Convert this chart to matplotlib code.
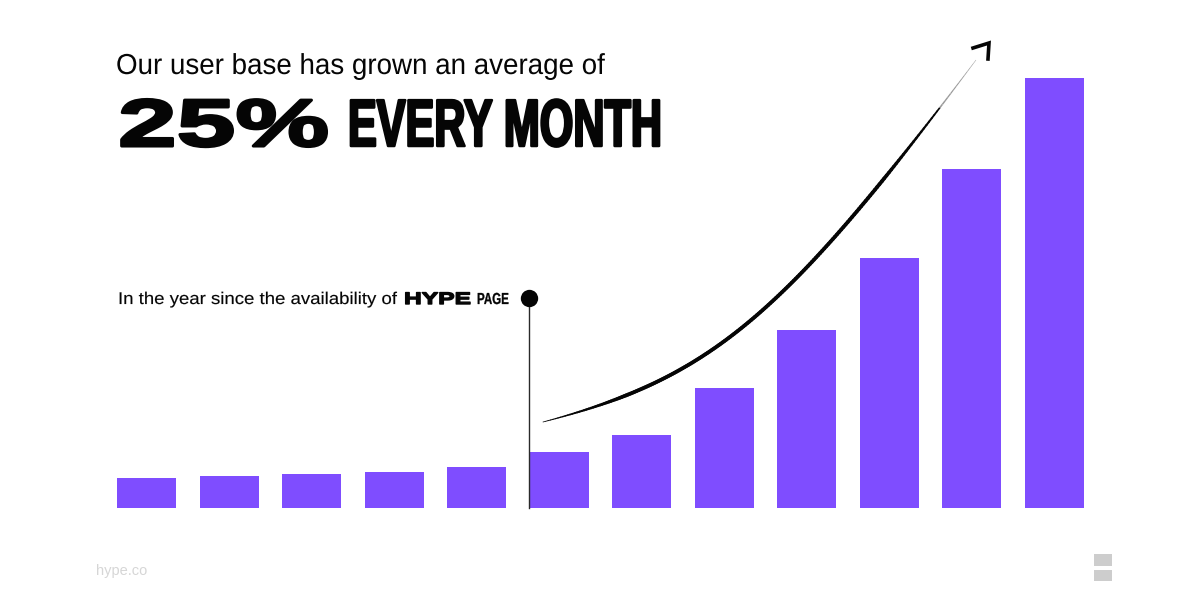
"""Bar chart slide: user base growth, hype.co."""
import matplotlib
matplotlib.use("Agg")
import matplotlib.pyplot as plt
import matplotlib.patheffects as pe
from matplotlib.collections import LineCollection
from matplotlib.transforms import Affine2D
import numpy as np

# ── Data ──────────────────────────────────────────────────────────────────────
months = np.arange(12)
users = [30, 32, 34.5, 36, 41, 56, 73.5, 120, 178.5, 250, 339, 430]

TITLE = "Our user base has grown an average of"
BIG_NUM = "25%"
BIG_TXT = "EVERY MONTH"
NOTE = "In the year since the availability of"
PURPLE = "#7f4dff"
BLACK = "#050505"
FOOT = "#d6d6d6"
LOGO = "#cdcdcd"

plt.rcParams["font.family"] = ["Liberation Sans", "DejaVu Sans"]


class Stretch(pe.AbstractPathEffect):
    """Scale a text horizontally about x0 (display px)."""
    def __init__(self, x0, sx, stroke=0):
        super().__init__()
        self.x0, self.sx, self.stroke = x0, sx, stroke

    def draw_path(self, renderer, gc, tpath, affine, rgbFace=None):
        aff = affine + Affine2D().translate(-self.x0, 0).scale(self.sx, 1).translate(self.x0, 0)
        gc0 = renderer.new_gc()
        gc0.copy_properties(gc)
        if self.stroke:
            gc0.set_linewidth(self.stroke)
            gc0.set_foreground(rgbFace)
        else:
            gc0.set_linewidth(0)
        renderer.draw_path(gc0, tpath, aff, rgbFace)
        gc0.restore()


fig = plt.figure(figsize=(12, 6), dpi=100, facecolor="white")

# bars: one unit in y is one pixel, baseline at y=508 px from the top
ax = fig.add_axes([0, 0, 1, 1])
ax.bar(months, users, width=59 / 82.5, color=PURPLE, linewidth=0)
ax.set_xlim(-146.5 / 82.5, (1200 - 146.5) / 82.5)
ax.set_ylim(-(600 - 508), 508)
ax.axis("off")

# overlay in image pixels
ov = fig.add_axes([0, 0, 1, 1], facecolor="none")
ov.set_xlim(0, 1200)
ov.set_ylim(600, 0)
ov.axis("off")


def fit_text(x0, x1, y, s, size, stroke=0, **kw):
    """Place text with baseline y and stretch it to span x0..x1."""
    t = ov.text(x0, y, s, fontsize=size, ha="left", va="baseline", **kw)
    ext = t.get_window_extent(fig.canvas.get_renderer())
    t.set_path_effects([Stretch(x0, (x1 - x0) / ext.width, stroke)])
    return t


fit_text(116, 605, 74, TITLE, 20.8, color=BLACK)
fit_text(118, 329, 146, BIG_NUM, 48, stroke=2.2, color=BLACK, weight="bold")
fit_text(348, 662, 146, BIG_TXT, 48, stroke=1.8, color=BLACK, weight="bold")
fit_text(118, 398, 304, NOTE, 12.2, stroke=0.1, color=BLACK)
fit_text(404, 471, 304, "HYPE", 12, stroke=1.0, color=BLACK, weight="bold")
fit_text(477, 509, 304, "PAGE", 11.5, stroke=0.2, color=BLACK, weight="bold")
ov.text(96, 575, "hype.co", fontsize=10.5, color=FOOT, ha="left", va="baseline")

# marker line
ov.plot([529, 529], [298, 508], color="#2a2a2a", lw=1.0, zorder=3)
ov.plot([529], [298], "o", ms=12.5, color=BLACK, mew=0, zorder=4)

# tapered growth curve (cubic bezier), fades out towards the arrow head
p0, p1, p2, p3 = map(np.array, [(543, 422), (711, 378), (783, 317), (976, 60)])
u = np.linspace(0, 1, 200)[:, None]
curve = (1 - u) ** 3 * p0 + 3 * (1 - u) ** 2 * u * p1 + 3 * (1 - u) * u ** 2 * p2 + u ** 3 * p3
segs = np.stack([curve[:-1], curve[1:]], axis=1)
s = u[:-1, 0]
widths = 2.7 * np.clip(np.minimum(s / 0.22 + 0.2, (1 - s) / 0.2 + 0.1), 0, 1)
ov.add_collection(LineCollection(segs[s < 0.93], linewidths=widths[s < 0.93], colors=BLACK,
                                 capstyle="round", zorder=3))
# last stretch is grey instead of black
ov.add_collection(LineCollection(segs[s >= 0.93], linewidths=widths[s >= 0.93], colors="#9a9a9a",
                                 capstyle="butt", zorder=3))

# arrow head
ov.plot([973, 989, 988], [48, 43, 59], color=BLACK, lw=2.6, solid_joinstyle="miter", zorder=3)

# footer logo
for top, bottom in [(554, 566), (570, 581)]:
    ov.fill_between([1094, 1112], top, bottom, color=LOGO, lw=0)

fig.savefig("out.png", dpi=100)
